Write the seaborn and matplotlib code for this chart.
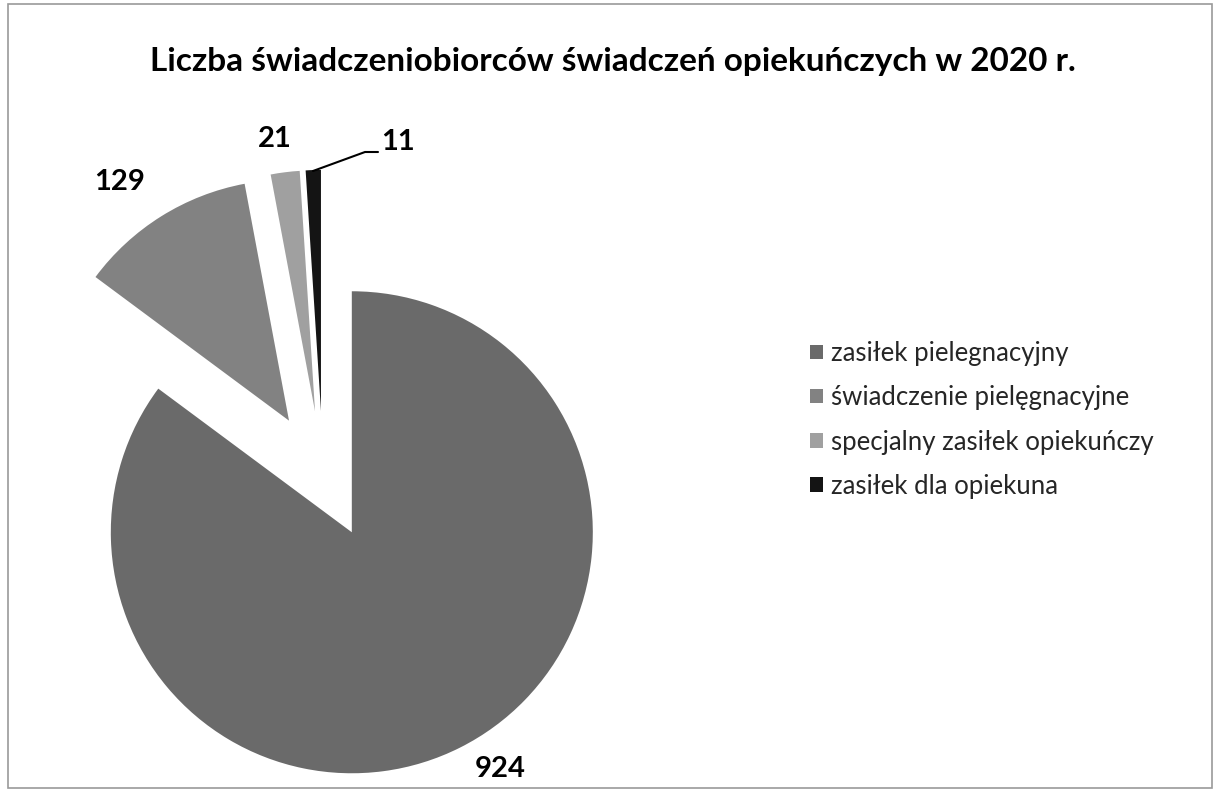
import matplotlib
matplotlib.use('Agg')
import matplotlib.pyplot as plt
import seaborn as sns
from matplotlib.patches import Rectangle

# data
categories = ['zasiłek pielegnacyjny', 'świadczenie pielęgnacyjne',
              'specjalny zasiłek opiekuńczy', 'zasiłek dla opiekuna']
values = [924, 129, 21, 11]
slice_colors = ['#6a6a6a', '#828282', '#a0a0a0', '#141414']
title = 'Liczba świadczeniobiorców świadczeń opiekuńczych w 2020 r.'

sns.set_theme(style='white')
plt.rcParams['font.family'] = ['Lato', 'DejaVu Sans']

W, H = 1218, 794
R_PX = 241            # pie radius in pixels
CX, CY = 323, 475     # pie centre in pixels (from top-left)

fig = plt.figure(figsize=(W / 100, H / 100), dpi=100)
ax = fig.add_axes([0, 0, 1, 1])

wedges, _ = ax.pie(values, colors=slice_colors, startangle=90, counterclock=False,
                   explode=[0.266] * len(values), radius=1,
                   wedgeprops=dict(linewidth=0))

# pie() resets the limits, so map the axes to pixels afterwards
ax.set_xlim(-CX / R_PX, (W - CX) / R_PX)
ax.set_ylim(-(H - CY) / R_PX, CY / R_PX)
ax.set_aspect('equal')
ax.axis('off')


def px(x, y):
    return ((x - CX) / R_PX, (CY - y) / R_PX)


lab_kw = dict(fontsize=21, fontweight='bold', color='black', ha='center', va='center')
ax.text(*px(500, 769), str(values[0]), **lab_kw)
ax.text(*px(120, 182), str(values[1]), **lab_kw)
ax.text(*px(275, 139), str(values[2]), **lab_kw)
ax.text(*px(398, 142), str(values[3]), **lab_kw)
# leader line for the smallest slice
lx, ly = zip(px(313, 171), px(365, 152), px(378, 152))
ax.plot(lx, ly, color='black', lw=1.5)

fig.text(0.503, 1 - 62 / H, title, ha='center', va='center',
         fontsize=24, fontweight='bold', color='black')

leg = ax.legend(wedges, categories, loc='upper left',
                bbox_to_anchor=(810 / W, 1 - 341 / H), bbox_transform=fig.transFigure,
                frameon=False, fontsize=18.5, handlelength=0.5, handleheight=0.5,
                handletextpad=0.3, labelspacing=0.75, borderpad=0, borderaxespad=0)

fig.patches.append(Rectangle((8 / W, 6 / H), (W - 14) / W, (H - 10) / H,
                             transform=fig.transFigure, fill=False,
                             edgecolor='#9a9a9a', lw=1.2))

fig.savefig('out.png', dpi=100)
